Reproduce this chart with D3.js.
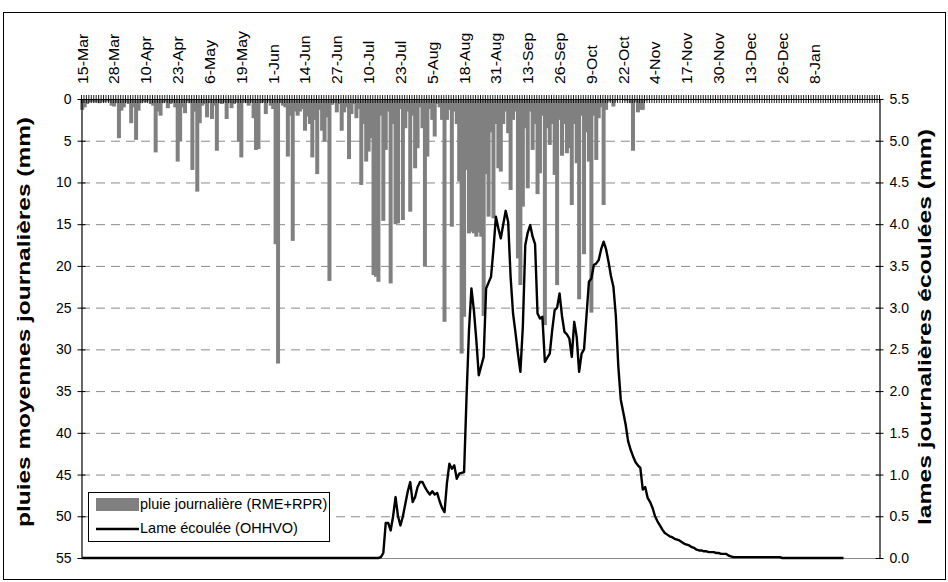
<!DOCTYPE html>
<html><head><meta charset="utf-8">
<script src="https://cdn.jsdelivr.net/npm/d3@7"></script>
<style>body{margin:0;background:#fff}svg{display:block;font-family:"Liberation Sans",Arial,sans-serif}</style>
</head><body><svg id="c" width="948" height="582"></svg>
<script>
const dateLabels = ["15-Mar","28-Mar","10-Apr","23-Apr","6-May","19-May","1-Jun","14-Jun","27-Jun","10-Jul","23-Jul","5-Aug","18-Aug","31-Aug","13-Sep","26-Sep","9-Oct","22-Oct","4-Nov","17-Nov","30-Nov","13-Dec","26-Dec","8-Jan"];
const labelStep = 13;
const nDays = 326;
const leftTicks = [0,5,10,15,20,25,30,35,40,45,50,55];
const rightTicks = [0,0.5,1,1.5,2,2.5,3,3.5,4,4.5,5,5.5];
const legendLabels = ["pluie journalière (RME+RPR)","Lame écoulée (OHHVO)"];
const leftTitle = "pluies moyennes journalières (mm)";
const rightTitle = "lames journalières écoulées (mm)";

// daily rainfall (mm), day 0 = 15-Mar
const rain = [
1.3,1.0,0.6,0.4,0.3,0.4,0.3,0.5,0.3,0.4,
0.2,0.3,0.8,0.9,0.5,4.7,1.4,1.0,0.4,0.6,
2.9,1.0,4.9,1.4,0.5,0.3,0.4,0.2,0.6,0.8,
6.4,1.5,2.0,0.5,0.3,1.1,0.6,0.4,1.0,7.5,
5.1,1.0,1.7,0.3,0.5,8.5,1.5,11.1,2.9,0.8,
0.6,2.2,0.5,2.4,0.8,6.2,0.5,0.6,0.4,2.4,
0.5,1.1,0.6,0.4,5.1,7.0,0.3,0.5,0.8,0.4,
2.3,6.1,6.0,0.5,0.4,1.8,0.3,0.8,1.2,17.4,
31.7,0.5,0.8,1.0,6.9,2.0,17.0,1.5,2.0,1.5,
1.2,3.8,2.1,3.0,7.0,2.5,9.0,1.3,3.8,5.1,
2.2,21.8,0.7,0.5,1.6,0.6,3.8,1.6,1.0,7.2,
1.8,0.6,2.3,1.2,10.3,3.0,7.5,6.3,4.7,21.1,
21.3,21.9,2.0,14.6,6.1,1.5,22.1,3.0,15.0,14.9,
1.2,14.5,3.5,1.5,13.5,2.0,8.3,5.9,1.0,3.5,
20.1,6.9,1.2,2.5,4.5,0.6,1.0,2.5,26.7,2.5,
1.3,15.3,1.5,3.0,9.9,30.5,26.1,8.5,16.1,15.9,
16.1,16.5,16.0,16.5,26.0,9.0,14.1,4.0,14.3,3.0,
8.3,8.7,3.0,1.5,4.1,10.9,2.5,1.5,19.1,22.3,
12.9,3.5,10.7,1.5,6.1,3.0,11.4,8.9,2.0,27.1,
3.5,5.5,3.0,9.1,22.3,2.5,6.8,3.0,6.5,5.9,
12.7,3.0,7.7,24.0,2.0,18.6,4.0,7.5,25.6,2.0,
7.3,2.3,1.0,12.7,1.3,0.3,0.2,0.9,0.2,0,
0,0,0.2,0,0.5,6.2,0.3,1.6,1.3,1.3,
0.2
];

// daily runoff depth (mm), day 0 = 15-Mar
const runoff = [
0,0,0,0,0,0,0,0,0,0, 0,0,0,0,0,0,0,0,0,0,
0,0,0,0,0,0,0,0,0,0, 0,0,0,0,0,0,0,0,0,0,
0,0,0,0,0,0,0,0,0,0, 0,0,0,0,0,0,0,0,0,0,
0,0,0,0,0,0,0,0,0,0, 0,0,0,0,0,0,0,0,0,0,
0,0,0,0,0,0,0,0,0,0, 0,0,0,0,0,0,0,0,0,0,
0,0,0,0,0,0,0,0,0,0, 0,0,0,0,0,0,0,0,0,0,
0,0,0.01,0.06,0.42,0.42,0.33,0.5,0.73,0.5,
0.39,0.5,0.65,0.8,0.91,0.67,0.73,0.85,0.91,0.91,
0.85,0.8,0.76,0.8,0.76,0.78,0.68,0.6,0.55,0.9,
1.13,1.07,1.11,0.95,1.01,1.02,1.03,1.93,2.73,3.23,
2.97,2.61,2.19,2.3,2.41,3.23,3.3,3.37,3.7,4.09,
3.95,3.83,4.0,4.16,4.03,3.37,2.93,2.7,2.45,2.23,
2.77,3.75,3.9,3.99,3.85,3.76,2.93,2.87,2.89,2.35,
2.4,2.45,2.73,2.97,3.0,3.17,2.9,2.71,2.68,2.63,
2.41,2.83,2.65,2.23,2.45,2.5,2.9,3.31,3.35,3.51,
3.53,3.57,3.7,3.79,3.7,3.55,3.38,3.25,2.9,2.3,
1.9,1.75,1.6,1.4,1.3,1.22,1.15,1.11,1.08,0.82,
0.85,0.72,0.67,0.6,0.5,0.44,0.39,0.34,0.3,0.28,
0.26,0.25,0.23,0.22,0.21,0.19,0.17,0.16,0.15,0.13,
0.12,0.1,0.09,0.09,0.08,0.08,0.07,0.07,0.07,0.06,
0.06,0.05,0.05,0.05,0.03,0.02,0.01,0.01,0.01,0.01,
0.01,0.01,0.01,0.01,0.01,0.01,0.01,0.01,0.01,0.01,
0.01,0.01,0.01,0.01,0.01,0.01,0,0,0,0,
0,0,0,0,0,0,0,0,0,0,
0,0,0,0,0,0,0,0,0,0,
0,0
];

const FONT = '"Liberation Sans", Arial, sans-serif';
const svg = d3.select("#c");
const M = {l:81, r:879, t:99, b:558};
const x = d3.scaleBand().domain(d3.range(nDays)).range([M.l, M.r]).padding(0);
const bw = x.bandwidth();
const xc = i => x(i) + bw / 2;
const yL = d3.scaleLinear().domain([0, 55]).range([M.t, M.b]);
const yR = d3.scaleLinear().domain([0, 5.5]).range([M.b, M.t]);

// outer frame
svg.append("rect").attr("x", 3.5).attr("y", 12.5).attr("width", 942).attr("height", 567)
  .attr("fill", "#fff").attr("stroke", "#000").attr("stroke-width", 1);

// gridlines
svg.append("g").selectAll("line").data(leftTicks.filter(v => v > 0 && v < 55)).join("line")
  .attr("x1", M.l).attr("x2", M.r)
  .attr("y1", d => yL(d) + 0.5).attr("y2", d => yL(d) + 0.5)
  .attr("stroke", "#8a8a8a").attr("stroke-width", 1).attr("stroke-dasharray", "9,6");
svg.append("line").attr("x1", M.l).attr("x2", M.r).attr("y1", yL(55) + 0.5).attr("y2", yL(55) + 0.5)
  .attr("stroke", "#8a8a8a").attr("stroke-width", 1.2);

// rain bars
svg.append("g").selectAll("rect").data(rain.map((v, i) => ({i, v})).filter(d => d.v > 0)).join("rect")
  .attr("x", d => xc(d.i) - 2).attr("width", 4)
  .attr("y", yL(0)).attr("height", d => yL(d.v) - yL(0))
  .attr("fill", "#808080");

// runoff line
svg.append("path").datum(runoff.map((v, i) => ({i, v})))
  .attr("fill", "none").attr("stroke", "#000").attr("stroke-width", 2.4).attr("stroke-linejoin", "round")
  .attr("d", d3.line().x(d => xc(d.i)).y(d => yR(d.v)));

// top category axis: day ticks
const gTop = svg.append("g");
gTop.selectAll("line.day").data(d3.range(nDays + 1)).join("line").attr("class", "day")
  .attr("x1", i => (i < nDays ? x(i) : M.r) + 0.5).attr("x2", i => (i < nDays ? x(i) : M.r) + 0.5)
  .attr("y1", M.t - 4).attr("y2", M.t + 4).attr("stroke", "#000").attr("stroke-width", 0.9);
gTop.append("line").attr("x1", M.l).attr("x2", M.r + 1).attr("y1", M.t + 0.5).attr("y2", M.t + 0.5)
  .attr("stroke", "#000").attr("stroke-width", 1.2);

const labelIdx = dateLabels.map((_, k) => k * labelStep);
const axTop = d3.axisTop(x).tickValues(labelIdx).tickSize(0).tickFormat((d, k) => dateLabels[k]);
const gLab = svg.append("g").attr("transform", `translate(0,${M.t})`).call(axTop);
gLab.select(".domain").remove();
gLab.selectAll("text")
  .attr("font-family", FONT).attr("font-size", 15).attr("fill", "#000")
  .attr("text-anchor", "start").attr("x", 0).attr("y", 0).attr("dy", "0.36em")
  .attr("transform", "translate(0,-15) rotate(-90) scale(1.06,1)");

// left axis
const gL = svg.append("g").attr("transform", `translate(${M.l + 0.5},0)`)
  .call(d3.axisLeft(yL).tickValues(leftTicks).tickSize(4).tickSizeOuter(0).tickPadding(6));
gL.selectAll(".tick line").attr("x1", 4).attr("stroke", "#000");
gL.select(".domain").attr("stroke", "#000").attr("stroke-width", 1.2);
gL.selectAll("text").attr("font-family", FONT).attr("font-size", 14).attr("fill", "#000");

// right axis
const gR = svg.append("g").attr("transform", `translate(${M.r + 0.5},0)`)
  .call(d3.axisRight(yR).tickValues(rightTicks).tickFormat(d3.format(".1f")).tickSize(4).tickSizeOuter(0).tickPadding(6));
gR.selectAll(".tick line").attr("x1", -4).attr("stroke", "#000");
gR.select(".domain").attr("stroke", "#000").attr("stroke-width", 1.2);
gR.selectAll("text").attr("font-family", FONT).attr("font-size", 14).attr("fill", "#000");

// axis titles
svg.append("text").attr("transform", "translate(30,322) rotate(-90)")
  .attr("text-anchor", "middle").attr("font-family", FONT).attr("font-weight", "bold").attr("font-size", 18)
  .attr("textLength", 410).attr("lengthAdjust", "spacingAndGlyphs").text(leftTitle);
svg.append("text").attr("transform", "translate(931,327) rotate(-90)")
  .attr("text-anchor", "middle").attr("font-family", FONT).attr("font-weight", "bold").attr("font-size", 18)
  .attr("textLength", 396).attr("lengthAdjust", "spacingAndGlyphs").text(rightTitle);

// legend
const lg = svg.append("g");
lg.append("rect").attr("x", 88.5).attr("y", 492.5).attr("width", 241).attr("height", 49)
  .attr("fill", "#fff").attr("stroke", "#000").attr("stroke-width", 1);
lg.append("rect").attr("x", 96).attr("y", 498).attr("width", 43).attr("height", 13).attr("fill", "#808080");
lg.append("line").attr("x1", 96).attr("x2", 139).attr("y1", 529).attr("y2", 529).attr("stroke", "#000").attr("stroke-width", 2.6);
lg.selectAll("text").data(legendLabels).join("text")
  .attr("x", 140).attr("y", (d, i) => i ? 533 : 509)
  .attr("font-family", FONT).attr("font-size", 14.5).attr("fill", "#000").text(d => d);
</script></body></html>
